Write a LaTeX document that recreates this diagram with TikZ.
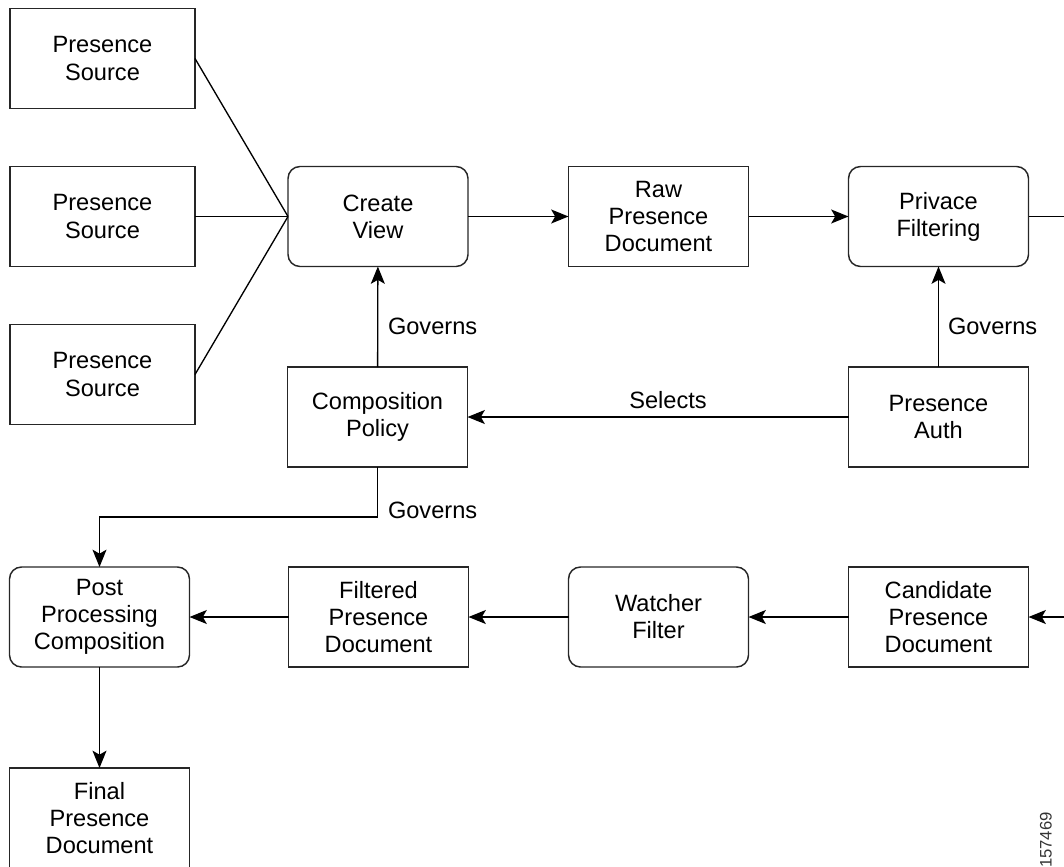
\documentclass[tikz,border=0pt]{standalone}
\usepackage{fontspec}
\setmainfont{Liberation Sans}
\usetikzlibrary{arrows.meta}
\begin{document}
\begin{tikzpicture}[x=0.75pt,y=-0.75pt,
  every node/.style={inner sep=0pt,outer sep=0pt},
  boxline/.style={draw=black!85,line width=1.1pt},
  blk/.style={boxline,minimum width=135pt,minimum height=75pt,
    align=center,font=\fontsize{17.7}{20.3}\selectfont},
  srcbox/.style={blk,minimum width=138.75pt},
  rblk/.style={blk,rounded corners=9pt},
  lbl/.style={font=\fontsize{17.7}{20.3}\selectfont},
  link/.style={line width=1pt},
  flow/.style={link,-{Stealth[length=13pt,width=10.5pt,inset=3pt]}}]
\useasboundingbox (0,0) rectangle (1064,867);

% sources
\node[srcbox] (s1) at (102.5,58.5)  {Presence\\Source};
\node[srcbox] (s2) at (102.5,216.5) {Presence\\Source};
\node[srcbox] (s3) at (102.5,374.5) {Presence\\Source};

% upper row
\node[rblk] (cv)  at (378,216.5)   {Create\\View};
\node[blk]  (raw) at (658.5,216.5) {Raw\\Presence\\Document};
\node[rblk] (pf)  at (938.5,216.5) {Privace\\Filtering};

% policies
\node[blk] (cp) at (377.5,417) {Composition\\Policy};
\node[blk] (pa) at (938.5,417) {Presence\\Auth};

% lower row
\node[rblk] (post) at (99.5,617)  {Post\\Processing\\Composition};
\node[blk]  (filt) at (378.5,617) {Filtered\\Presence\\Document};
\node[rblk] (wf)   at (658.5,617) {Watcher\\Filter};
\node[blk]  (cand) at (938.5,617) {Candidate\\Presence\\Document};

% last box runs past the lower margin
\node[blk,draw=none] (fin) at (99.5,818) {Final\\Presence\\Document};
\draw[boxline] ([yshift=-10pt]fin.south west) -- (fin.north west) -- (fin.north east) -- ([yshift=-10pt]fin.south east);

% free ends at the right margin
\coordinate (outR) at (1064,216.5);
\coordinate (inR)  at (1064,617);
\coordinate (bendA) at (377.5,517);
\coordinate (bendB) at (99.5,517);

% connectors
\draw[link] (s1.east) -- (cv.west);
\draw[link] (s2.east) -- (cv.west);
\draw[link] (s3.east) -- (cv.west);
\draw[flow] (cv) -- (raw);
\draw[flow] (raw) -- (pf);
\draw[link] (pf.east) -- (outR);
\draw[flow] (cp) -- (cv);
\draw[flow] (pa) -- (pf);
\draw[flow] (pa) -- (cp);
\draw[flow] (inR) -- (cand.east);
\draw[flow] (cand) -- (wf);
\draw[flow] (wf) -- (filt);
\draw[flow] (filt) -- (post);
\draw[flow] (cp.south) -- (bendA) -- (bendB) -- (post.north);
\draw[flow] (post) -- (fin.north);

% labels
\node[lbl,anchor=west] (g1) at (388,326) {Governs};
\node[lbl,anchor=west] (g2) at (948,326) {Governs};
\node[lbl] (sel) at (668,400) {Selects};
\node[lbl,anchor=west] (g3) at (388,510) {Governs};

\node[rotate=90,font=\fontsize{12.5}{14}\selectfont,text=black!80] (num) at (1046,840) {157469};
\end{tikzpicture}
\end{document}
